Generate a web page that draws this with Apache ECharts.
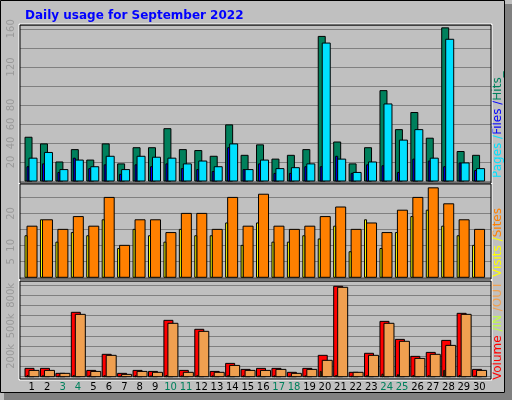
<!DOCTYPE html>
<html><head><meta charset="utf-8">
<script src="https://cdn.jsdelivr.net/npm/echarts@6/dist/echarts.min.js"></script>
<style>html,body{margin:0;padding:0;background:#c0c0c0}#c{width:512px;height:400px}</style>
</head><body><div id="c"></div>
<script>
const days = Array.from({length:30},(_,i)=>i+1);
const weekendDays = [3,4,10,11,17,18,24,25];
const hits  = [46,39,20,33,22,39,18,35,35,55,33,32,26,59,27,38,23,27,33,152,41,18,35,95,54,72,45,161,31,27];
const files = [24,30,12,22,15,26,12,26,25,24,18,21,15,39,12,22,13,14,18,145,23,9,20,81,43,54,24,149,19,13];
const pages = [15,18,9,24,13,17,7,17,15,18,13,12,10,35,12,18,8,8,15,15,26,8,17,16,9,23,21,15,19,11];
const sites = [16,18,15,19,16,25,10,18,18,14,20,20,15,25,16,26,16,15,16,19,22,15,17,14,21,25,28,23,18,15];
const visits= [13,18,11,14,13,18,9,15,13,11,15,13,13,17,10,17,11,11,13,12,16,8,18,9,14,19,21,16,13,10];
const volume= [82,82,33,633,62,220,33,62,52,554,62,466,52,131,72,82,82,43,82,210,889,43,230,544,367,200,239,357,623,72];
const kbOut = [62,62,33,613,52,210,23,52,43,525,43,446,43,111,62,62,72,33,72,161,879,43,210,525,348,180,220,308,613,62];
const kbIn  = [10,10,5,12,8,10,5,8,8,12,8,10,8,10,8,8,8,5,8,52,12,5,10,25,20,12,10,62,12,8];
const topTicks = ['20','40','60','80','120','160'];
const midTicks = ['5','10','20'];
const botTicks = ['200k','500k','800k'];

function barSeries(data, grid, x0, x1, color, z){
  return {type:'custom', xAxisIndex:grid, yAxisIndex:grid, z:z,
    data: days.map((d,i)=>[d,data[i]]),
    renderItem:(p,api)=>{
      const top=api.coord([api.value(0),api.value(1)]);
      const base=api.coord([api.value(0),0]);
      return {type:'rect', shape:{x:top[0]+x0, y:top[1], width:x1-x0, height:base[1]-top[1]},
        style:{fill:color, stroke:'#000', lineWidth:1}};
    }};
}
const grids=[{left:20,right:21,top:25,height:156},{left:20,right:21,top:184,height:93.3},{left:20,right:21,top:281,height:95.7}];
const xAxes=grids.map((g,i)=>({type:'value', gridIndex:i, min:0.24, max:30.76,
  splitLine:{show:false}, axisLine:{show:false}, axisTick:{show:false},
  axisLabel: i===2 ? {customValues:days, margin:6, fontSize:10, fontFamily:'DejaVu Sans',
    formatter:v=>weekendDays.includes(v)?'{w|'+v+'}':'{n|'+v+'}',
    rich:{w:{color:'#00805c',fontSize:10},n:{color:'#000',fontSize:10}}} : {show:false}}));
const mkY=(i,max,interval,shown)=>({type:'value', gridIndex:i, min:0, max:max, interval:interval,
  splitLine:{lineStyle:{color:'#808080',width:1}}, axisLine:{show:false}, axisTick:{show:false},
  axisLabel:{rotate:90, color:'#9a9a9a', fontSize:10, fontFamily:'DejaVu Sans', margin:4,
    showMaxLabel:false,
    formatter:v=>{const s=i===2?(v+'k'):String(v); return shown.includes(s)?s:'';}}});
const yAxes=[mkY(0,164,20,topTicks),mkY(1,29.2,5,midTicks),mkY(2,941,100,botTicks)];
const rect=(y,h)=>({type:'rect',shape:{x:20,y:y,width:471,height:h},style:{fill:'none',stroke:'#000',lineWidth:1},z:100});
const rectW=(y,h)=>({type:'rect',shape:{x:19,y:y-1,width:473,height:h+2},style:{fill:'none',stroke:'#fff',lineWidth:1},z:99});
const cv=document.createElement('canvas').getContext('2d'); cv.font='12px "DejaVu Sans"';
function sideLabel(yBottom, parts){
  const els=[]; let off=0;
  parts.forEach(([t,c])=>{els.push({type:'text',x:off,y:0,style:{text:t,fill:c,font:'12px "DejaVu Sans"',textVerticalAlign:'middle'}}); off+=cv.measureText(t).width;});
  return {type:'group',x:498,y:yBottom,rotation:Math.PI/2,children:els,z:100};
}
const chart=echarts.init(document.getElementById('c'),null,{renderer:'canvas'});
chart.setOption({backgroundColor:'#c0c0c0', animation:false,
  title:{text:'Daily usage for September 2022',left:20,top:5,textStyle:{color:'#0000ff',fontSize:12,fontWeight:'bold',fontFamily:'DejaVu Sans'}},
  grid:grids, xAxis:xAxes, yAxis:yAxes,
  series:[
    barSeries(hits,0,-6.7,0.3,'#00805c',2),
    barSeries(pages,0,-4.7,-2.7,'#0000ff',3),
    barSeries(files,0,-2.7,5.3,'#00e0ff',4),
    barSeries(visits,1,-6.7,-4.7,'#ffff00',3),
    barSeries(sites,1,-4.7,5.3,'#ff8000',2),
    barSeries(volume,2,-6.7,2.3,'#ff0000',2),
    barSeries(kbIn,2,-4.7,-3.7,'#c0ff40',3),
    barSeries(kbOut,2,-2.7,7.3,'#f0a050',4)
  ],
  graphic:[
    {type:'rect',shape:{x:505,y:4,width:7,height:396},style:{fill:'#808080'},z:90},
    {type:'rect',shape:{x:4,y:393,width:508,height:7},style:{fill:'#808080'},z:90},
    {type:'rect',shape:{x:0.5,y:0.5,width:504,height:392},style:{fill:'none',stroke:'#000',lineWidth:1},z:91},
    rectW(25,158),rect(25,158),rectW(184,95),rect(184,95),rectW(281,98),rect(281,98),
    sideLabel(178,[['Pages','#00e0ff'],[' /','#00e0ff'],['Files','#0000ff'],[' /','#0000ff'],['Hits_','#00805c']]),
    sideLabel(277,[['Visits','#ffff00'],[' /','#ffff00'],['Sites','#ff8000']]),
    sideLabel(380,[['Volume','#ff0000'],[' /','#c0ff40'],['IN','#c0ff40'],[' /','#f0a050'],['OUT','#f0a050']])
  ]
});
</script></body></html>
